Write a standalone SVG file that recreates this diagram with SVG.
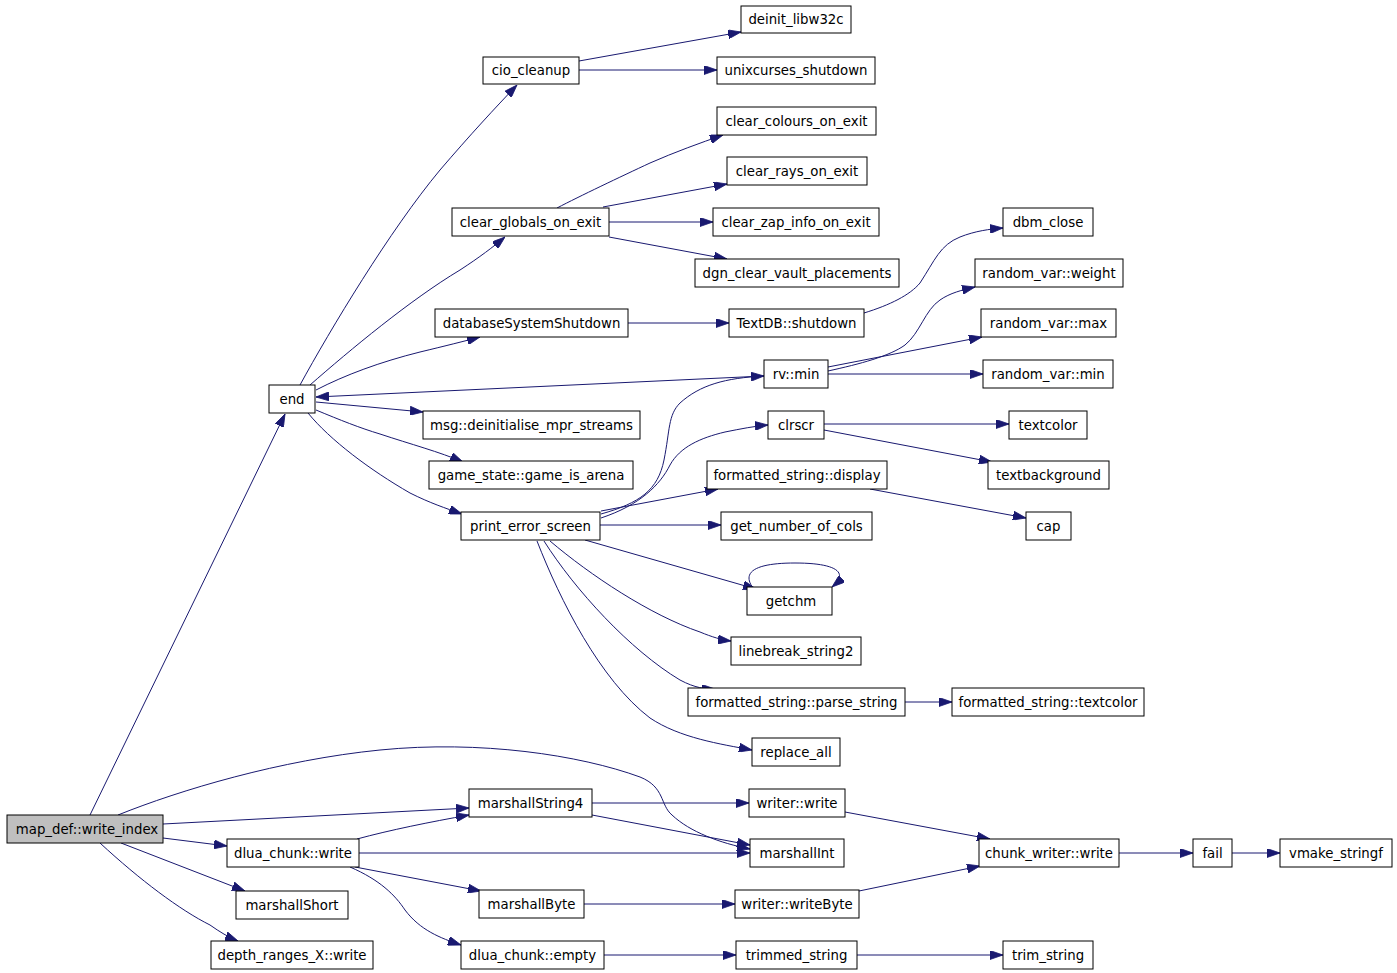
<svg xmlns="http://www.w3.org/2000/svg" width="1397" height="973" viewBox="0 0 1397 973">
<style>
.n rect{fill:#ffffff;stroke:#000000;stroke-width:1}
.n text{font-family:"DejaVu Sans","Liberation Sans",sans-serif;font-size:13.3px;fill:#000000;text-anchor:middle}
#map_def rect{fill:#bfbfbf}
#edges path{fill:none;stroke:#191970;stroke-width:1;marker-end:url(#arr)}
</style>
<defs>
<marker id="arr" viewBox="0 0 13 9" refX="13" refY="4.5" markerWidth="13" markerHeight="9" markerUnits="userSpaceOnUse" orient="auto">
<path d="M0,0 L13,4.5 L0,9 z" fill="#191970" stroke="#191970" stroke-width="0.8"/>
</marker>
</defs>
<rect width="1397" height="973" fill="#ffffff"/>
<g id="edges">
<path d="M90,815 L285,414"/>
<path d="M118,815 C180,790 280,760 380,750 C480,740 580,755 640,777 C665,787 660,805 672,815 C690,832 720,843 750,849"/>
<path d="M163,824 L469,808"/>
<path d="M163,838 L227,846"/>
<path d="M121,843 L245,891"/>
<path d="M100,843 C140,880 180,910 210,925 C220,932 228,937 238,941"/>
<path d="M300,385 C330,330 390,230 440,170 C470,135 495,108 517,85"/>
<path d="M310,385 C350,350 410,300 460,270 C480,257 493,247 505,237"/>
<path d="M316,390 C345,375 380,362 420,352 C445,346 465,341 480,337"/>
<path d="M764,376 L316,397"/>
<path d="M316,402 L423,412"/>
<path d="M316,410 C340,420 360,428 380,434 C410,444 440,452 463,462"/>
<path d="M308,413 C330,440 370,470 410,493 C430,503 445,508 462,514"/>
<path d="M579,61 L741,32"/>
<path d="M579,70 L717,70"/>
<path d="M557,208 C580,196 620,177 650,163 C675,152 700,143 723,135"/>
<path d="M603,207 L727,184"/>
<path d="M609,222 L713,222"/>
<path d="M609,237 L727,259"/>
<path d="M628,323 L729,323"/>
<path d="M864,313 C890,305 910,295 920,283 C935,260 940,245 960,237 C975,231 990,229 1003,228"/>
<path d="M828,371 C860,364 890,356 905,345 C920,333 925,310 940,300 C950,293 962,290 975,287"/>
<path d="M828,367 L982,337"/>
<path d="M828,374 L983,374"/>
<path d="M601,514 C640,503 658,490 664,460 C670,430 668,415 680,403 C700,385 725,378 764,376"/>
<path d="M601,518 C640,505 660,485 670,465 C680,447 700,438 725,432 C740,429 755,426 768,425"/>
<path d="M601,511 L718,489"/>
<path d="M600,525 L721,525"/>
<path d="M585,540 L756,589"/>
<path d="M550,541 C590,575 650,615 700,632 C712,637 722,640 731,641"/>
<path d="M544,541 C575,590 630,650 680,680 C695,688 705,689 715,689"/>
<path d="M537,541 C560,600 600,680 650,718 C680,738 720,744 752,750"/>
<path d="M824,424 L1009,424"/>
<path d="M824,430 L992,462"/>
<path d="M870,489 L1026,518"/>
<path d="M753,588 C740,570 760,563 795,563 C835,563 850,572 832,587"/>
<path d="M905,702 L952,702"/>
<path d="M592,803 L749,803"/>
<path d="M592,815 L750,845"/>
<path d="M357,839 C390,830 430,822 469,815"/>
<path d="M359,853 L750,853"/>
<path d="M355,867 L481,891"/>
<path d="M350,867 C380,880 395,895 405,910 C420,930 440,938 461,945"/>
<path d="M845,812 L990,839"/>
<path d="M584,904 L735,904"/>
<path d="M859,891 L980,866"/>
<path d="M1119,853 L1193,853"/>
<path d="M1232,853 L1280,853"/>
<path d="M604,955 L736,955"/>
<path d="M857,955 L1003,955"/>
</g>
<g id="deinit_libw32c" class="n"><rect x="741" y="6" width="110" height="27"/><text x="796" y="24">deinit_libw32c</text></g>
<g id="cio_cleanup" class="n"><rect x="483" y="57" width="96" height="27"/><text x="531" y="75">cio_cleanup</text></g>
<g id="unixcurses_shutdown" class="n"><rect x="717" y="57" width="158" height="27"/><text x="796" y="75">unixcurses_shutdown</text></g>
<g id="clear_colours_on_exit" class="n"><rect x="717" y="107" width="159" height="28"/><text x="796.5" y="125.5">clear_colours_on_exit</text></g>
<g id="clear_rays_on_exit" class="n"><rect x="727" y="157" width="140" height="28"/><text x="797" y="175.5">clear_rays_on_exit</text></g>
<g id="clear_globals_on_exit" class="n"><rect x="452" y="208" width="157" height="28"/><text x="530.5" y="226.5">clear_globals_on_exit</text></g>
<g id="clear_zap_info_on_exit" class="n"><rect x="713" y="208" width="166" height="28"/><text x="796" y="226.5">clear_zap_info_on_exit</text></g>
<g id="dbm_close" class="n"><rect x="1003" y="208" width="90" height="28"/><text x="1048" y="226.5">dbm_close</text></g>
<g id="dgn_clear_vault_placements" class="n"><rect x="695" y="259" width="204" height="28"/><text x="797" y="277.5">dgn_clear_vault_placements</text></g>
<g id="random_var_weight" class="n"><rect x="975" y="259" width="148" height="28"/><text x="1049" y="277.5">random_var::weight</text></g>
<g id="databaseSystemShutdown" class="n"><rect x="435" y="309" width="193" height="28"/><text x="531.5" y="327.5">databaseSystemShutdown</text></g>
<g id="TextDB_shutdown" class="n"><rect x="729" y="309" width="135" height="28"/><text x="796.5" y="327.5">TextDB::shutdown</text></g>
<g id="random_var_max" class="n"><rect x="981" y="309" width="135" height="28"/><text x="1048.5" y="327.5">random_var::max</text></g>
<g id="end" class="n"><rect x="269" y="385" width="46" height="28"/><text x="292" y="403.5">end</text></g>
<g id="rv_min" class="n"><rect x="764" y="360" width="64" height="28"/><text x="796" y="378.5">rv::min</text></g>
<g id="random_var_min" class="n"><rect x="983" y="360" width="130" height="28"/><text x="1048" y="378.5">random_var::min</text></g>
<g id="msg_deinitialise_mpr_streams" class="n"><rect x="423" y="411" width="217" height="28"/><text x="531.5" y="429.5">msg::deinitialise_mpr_streams</text></g>
<g id="clrscr" class="n"><rect x="768" y="411" width="56" height="28"/><text x="796" y="429.5">clrscr</text></g>
<g id="textcolor" class="n"><rect x="1009" y="411" width="78" height="28"/><text x="1048" y="429.5">textcolor</text></g>
<g id="game_state_game_is_arena" class="n"><rect x="429" y="461" width="204" height="28"/><text x="531" y="479.5">game_state::game_is_arena</text></g>
<g id="formatted_string_display" class="n"><rect x="707" y="461" width="180" height="28"/><text x="797" y="479.5">formatted_string::display</text></g>
<g id="textbackground" class="n"><rect x="988" y="461" width="121" height="28"/><text x="1048.5" y="479.5">textbackground</text></g>
<g id="print_error_screen" class="n"><rect x="461" y="512" width="139" height="28"/><text x="530.5" y="530.5">print_error_screen</text></g>
<g id="get_number_of_cols" class="n"><rect x="721" y="512" width="151" height="28"/><text x="796.5" y="530.5">get_number_of_cols</text></g>
<g id="cap" class="n"><rect x="1026" y="512" width="45" height="28"/><text x="1048.5" y="530.5">cap</text></g>
<g id="getchm" class="n"><rect x="747" y="587" width="85" height="28"/><text x="791" y="605.5">getchm</text></g>
<g id="linebreak_string2" class="n"><rect x="731" y="637" width="130" height="28"/><text x="796" y="655.5">linebreak_string2</text></g>
<g id="formatted_string_parse_string" class="n"><rect x="688" y="688" width="217" height="28"/><text x="796.5" y="706.5">formatted_string::parse_string</text></g>
<g id="formatted_string_textcolor" class="n"><rect x="952" y="688" width="192" height="28"/><text x="1048" y="706.5">formatted_string::textcolor</text></g>
<g id="replace_all" class="n"><rect x="752" y="738" width="88" height="28"/><text x="796" y="756.5">replace_all</text></g>
<g id="marshallString4" class="n"><rect x="469" y="789" width="123" height="28"/><text x="530.5" y="807.5">marshallString4</text></g>
<g id="writer_write" class="n"><rect x="749" y="789" width="96" height="28"/><text x="797" y="807.5">writer::write</text></g>
<g id="map_def" class="n"><rect x="7" y="815" width="156" height="28"/><text x="87" y="833.5">map_def::write_index</text></g>
<g id="dlua_chunk_write" class="n"><rect x="227" y="839" width="132" height="28"/><text x="293" y="857.5">dlua_chunk::write</text></g>
<g id="marshallInt" class="n"><rect x="750" y="839" width="94" height="28"/><text x="797" y="857.5">marshallInt</text></g>
<g id="chunk_writer_write" class="n"><rect x="979" y="839" width="140" height="28"/><text x="1049" y="857.5">chunk_writer::write</text></g>
<g id="fail" class="n"><rect x="1193" y="839" width="39" height="28"/><text x="1212.5" y="857.5">fail</text></g>
<g id="vmake_stringf" class="n"><rect x="1280" y="839" width="112" height="28"/><text x="1336" y="857.5">vmake_stringf</text></g>
<g id="marshallShort" class="n"><rect x="236" y="891" width="112" height="28"/><text x="292" y="909.5">marshallShort</text></g>
<g id="marshallByte" class="n"><rect x="479" y="890" width="105" height="28"/><text x="531.5" y="908.5">marshallByte</text></g>
<g id="writer_writeByte" class="n"><rect x="735" y="890" width="124" height="28"/><text x="797" y="908.5">writer::writeByte</text></g>
<g id="depth_ranges_X_write" class="n"><rect x="211" y="941" width="162" height="28"/><text x="292" y="959.5">depth_ranges_X::write</text></g>
<g id="dlua_chunk_empty" class="n"><rect x="461" y="941" width="143" height="28"/><text x="532.5" y="959.5">dlua_chunk::empty</text></g>
<g id="trimmed_string" class="n"><rect x="736" y="941" width="121" height="28"/><text x="796.5" y="959.5">trimmed_string</text></g>
<g id="trim_string" class="n"><rect x="1003" y="941" width="90" height="28"/><text x="1048" y="959.5">trim_string</text></g>
</svg>
